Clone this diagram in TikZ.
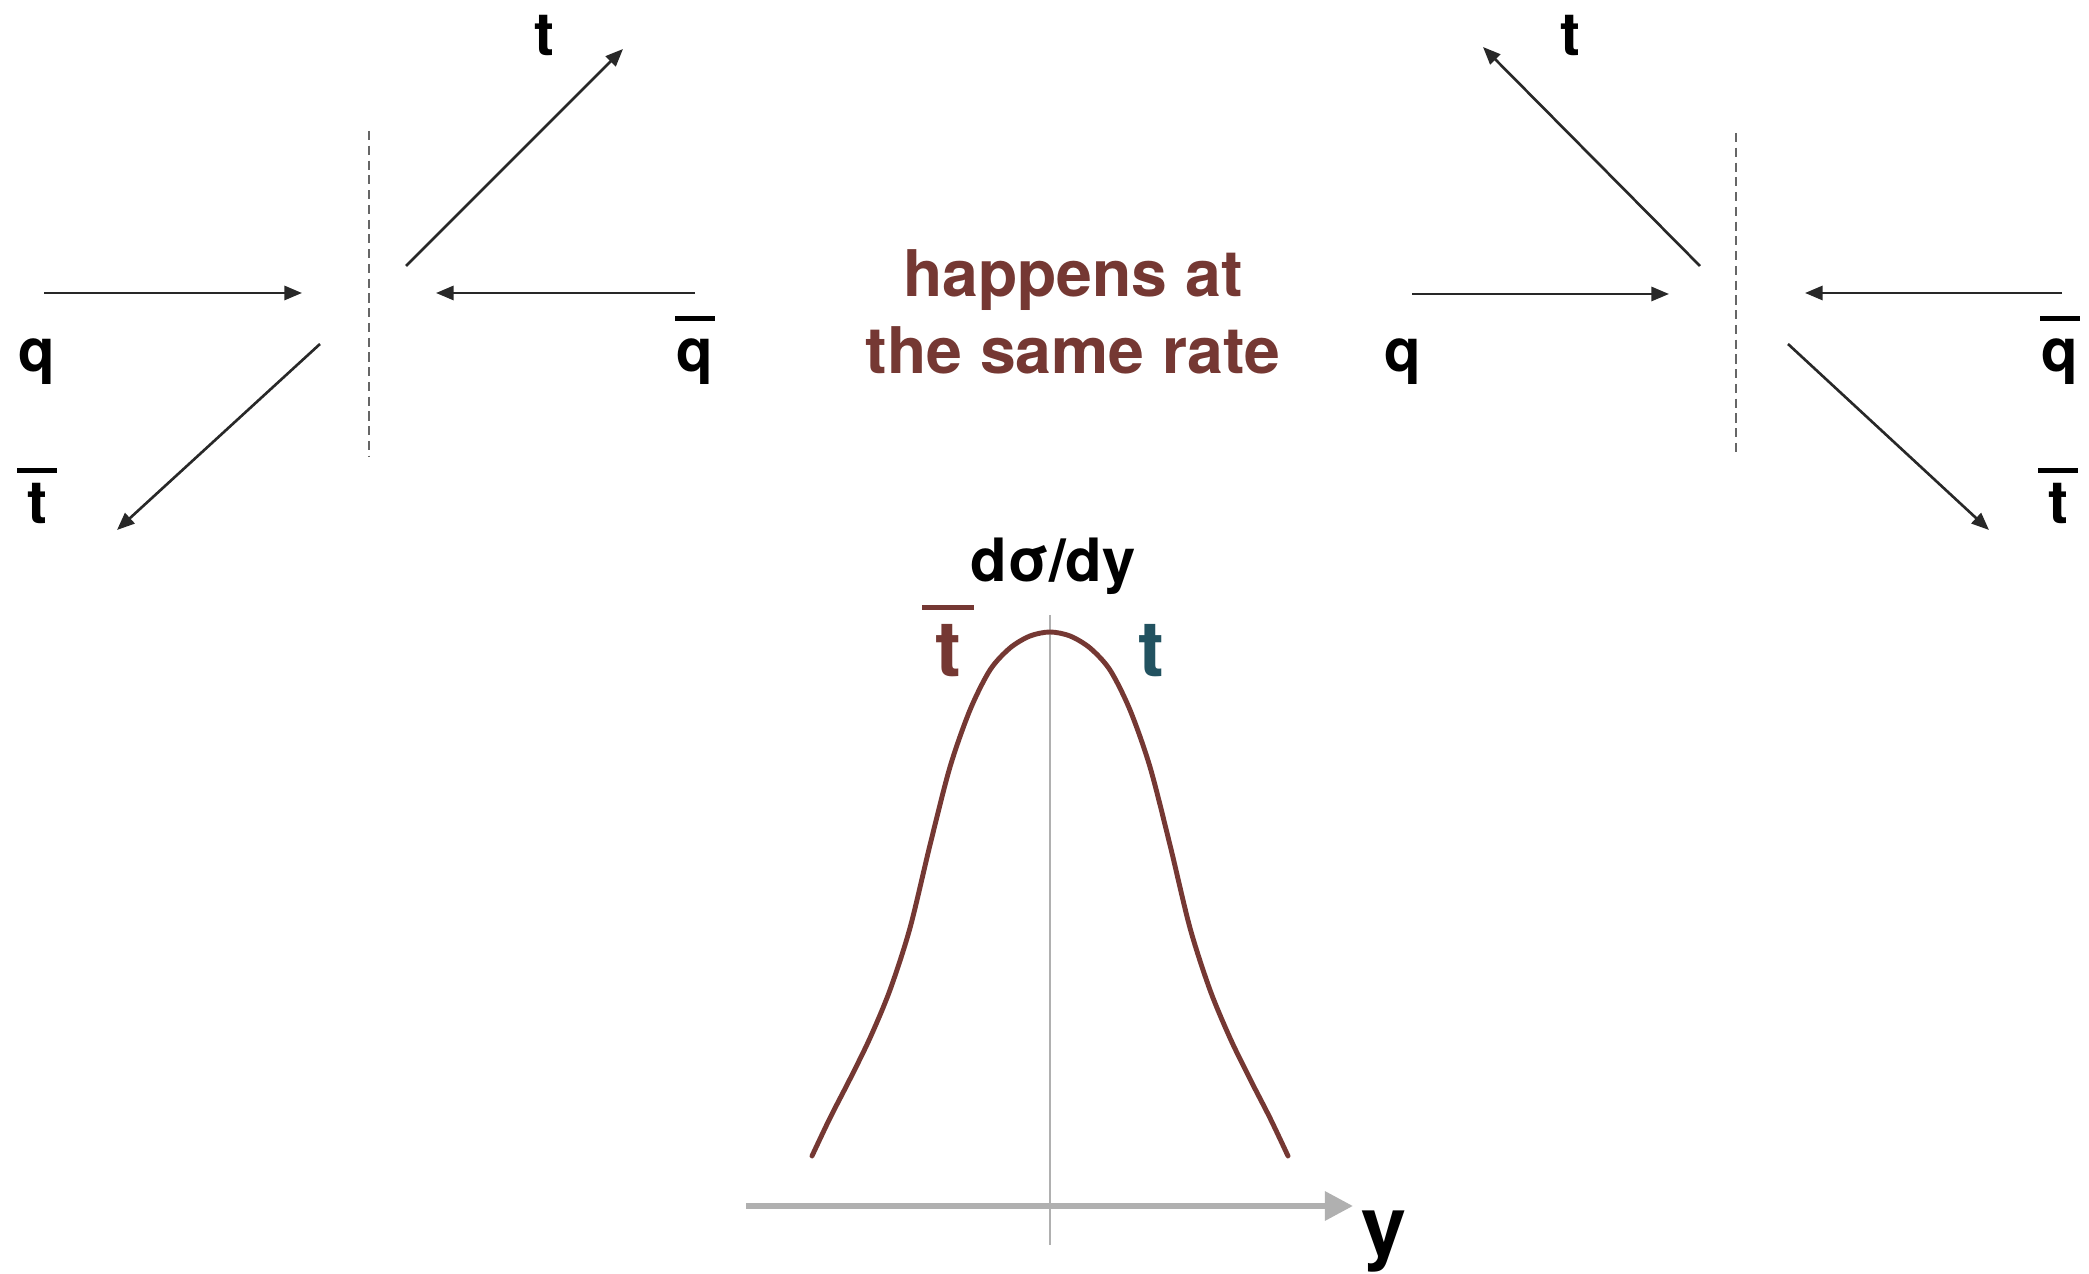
\documentclass[tikz,border=0pt]{standalone}
\usepackage{fontspec}
\setmainfont{TeX Gyre Heros}
\usepackage{tikz}
\usetikzlibrary{arrows.meta, positioning}
\definecolor{ratebrown}{RGB}{117,56,51}
\definecolor{topteal}{RGB}{34,82,96}
\definecolor{axisgray}{RGB}{176,176,176}
\definecolor{linegray}{RGB}{40,40,40}
\newcommand{\ovbar}[1]{\rlap{\rule[0.86em]{0.66em}{0.075em}}\makebox[0.66em]{#1}}

\begin{document}
\begin{tikzpicture}[
  lbl/.style={font=\fontsize{17}{20}\selectfont\bfseries, anchor=base, inner sep=0pt},
  parr/.style={-{Triangle[length=5pt, width=4pt]}, line width=0.75pt, color=linegray},
  cut/.style={dash pattern=on 2.6pt off 1.6pt, line width=0.5pt, color=black!60},
  axisline/.style={color=axisgray}
]
\useasboundingbox (0,0) rectangle (20.89,-12.74);

%% ── Left collision ──────────────────────────────────────────────────────
\coordinate (Lqin)   at (0.44,-2.93);
\coordinate (Lqend)  at (3.02,-2.93);
\coordinate (Lqbin)  at (6.95,-2.93);
\coordinate (Lqbend) at (4.36,-2.93);
\coordinate (Ltfrom) at (4.06,-2.66);
\coordinate (Ltto)   at (6.23,-0.49);
\coordinate (Ltbfrom) at (3.20,-3.44);
\coordinate (Ltbto)  at (1.17,-5.30);
\coordinate (Lcuttop) at (3.69,-1.31);
\coordinate (Lcutbot) at (3.69,-4.57);

\draw[cut] (Lcuttop) -- (Lcutbot);
\draw[parr] (Lqin) -- (Lqend);
\draw[parr] (Lqbin) -- (Lqbend);
\draw[parr] (Ltfrom) -- (Ltto);
\draw[parr] (Ltbfrom) -- (Ltbto);

\node[lbl] (Lt)  at (5.44,-0.56) {t};
\node[lbl] (Lq)  at (0.37,-3.72) {q};
\node[lbl] (Lqb) at (6.95,-3.72) {\ovbar{q}};
\node[lbl] (Ltb) at (0.37,-5.24) {\ovbar{t}};

%% ── Middle text ─────────────────────────────────────────────────────────
\node[font=\fontsize{18.3}{21.9}\selectfont\bfseries, text=ratebrown,
      align=center, inner sep=0pt] (rate) at (10.73,-3.12)
  {happens at\\the same rate};

%% ── Right collision ─────────────────────────────────────────────────────
\coordinate (Rqin)   at (14.12,-2.94);
\coordinate (Rqend)  at (16.69,-2.94);
\coordinate (Rqbin)  at (20.62,-2.93);
\coordinate (Rqbend) at (18.05,-2.93);
\coordinate (Rtfrom) at (17.00,-2.66);
\coordinate (Rtto)   at (14.83,-0.47);
\coordinate (Rtbfrom) at (17.88,-3.44);
\coordinate (Rtbto)  at (19.89,-5.30);
\coordinate (Rcuttop) at (17.36,-1.33);
\coordinate (Rcutbot) at (17.36,-4.57);

\draw[cut] (Rcuttop) -- (Rcutbot);
\draw[parr] (Rqin) -- (Rqend);
\draw[parr] (Rqbin) -- (Rqbend);
\draw[parr] (Rtfrom) -- (Rtto);
\draw[parr] (Rtbfrom) -- (Rtbto);

\node[lbl] (Rt)  at (15.70,-0.56) {t};
\node[lbl] (Rq)  at (14.03,-3.72) {q};
\node[lbl] (Rqb) at (20.60,-3.72) {\ovbar{q}};
\node[lbl] (Rtb) at (20.58,-5.24) {\ovbar{t}};

%% ── Rapidity distribution ───────────────────────────────────────────────
\coordinate (vtop) at (10.50,-6.15);
\coordinate (vbot) at (10.50,-12.45);
\coordinate (hleft)  at (7.46,-12.06);
\coordinate (hright) at (13.53,-12.06);

\draw[axisline, line width=0.8pt] (vtop) -- (vbot);
\draw[axisline, line width=1.7pt, -{Triangle[length=8pt, width=8pt]}] (hleft) -- (hright);

\draw[ratebrown, line width=1.4pt, line cap=round]
  plot[smooth] coordinates {
    (8.12,-11.56) (8.30,-11.18) (8.50,-10.79) (8.70,-10.38) (8.90,-9.90)
    (9.10,-9.28) (9.30,-8.45) (9.50,-7.67) (9.70,-7.10) (9.90,-6.70)
    (10.10,-6.48) (10.30,-6.36) (10.50,-6.32) (10.70,-6.36) (10.90,-6.48)
    (11.10,-6.70) (11.30,-7.10) (11.50,-7.67) (11.70,-8.45) (11.90,-9.28)
    (12.10,-9.90) (12.30,-10.38) (12.50,-10.79) (12.70,-11.18) (12.88,-11.56)};

\node[lbl] (dsdy) at (10.53,-5.82) {dσ/dy};
\node[lbl, font=\fontsize{22}{26}\selectfont\bfseries, text=ratebrown] (ptb) at (9.48,-6.77) {\ovbar{t}};
\node[lbl, font=\fontsize{22}{26}\selectfont\bfseries, text=topteal] (pt) at (11.51,-6.77) {t};
\node[lbl, font=\fontsize{23}{27}\selectfont\bfseries] (ylbl) at (13.84,-12.55) {y};

\end{tikzpicture}
\end{document}
